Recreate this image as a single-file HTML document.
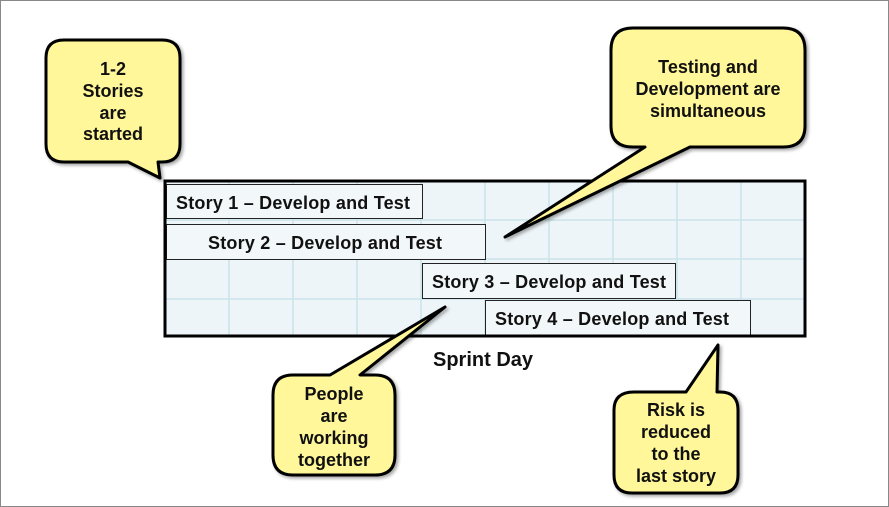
<!DOCTYPE html>
<html><head><style>
body{margin:0;background:#fff}
svg{display:block}
text{font-family:"Liberation Sans",sans-serif;font-weight:bold}
</style></head><body>
<svg width="889" height="507" viewBox="0 0 889 507">
<rect x="0.5" y="0.5" width="888" height="506" fill="#fff" stroke="#888"/>
<defs><filter id="sh" x="-10%" y="-10%" width="130%" height="130%"><feDropShadow dx="2" dy="2" stdDeviation="1.5" flood-color="#000" flood-opacity="0.35"/></filter></defs>
<rect x="165" y="181" width="640" height="155" fill="#eef5f8"/>
<g stroke="#c8e4ea" stroke-width="1.5">
<line x1="229" y1="181" x2="229" y2="336"/><line x1="293" y1="181" x2="293" y2="336"/><line x1="357" y1="181" x2="357" y2="336"/><line x1="421" y1="181" x2="421" y2="336"/><line x1="485" y1="181" x2="485" y2="336"/><line x1="549" y1="181" x2="549" y2="336"/><line x1="613" y1="181" x2="613" y2="336"/><line x1="677" y1="181" x2="677" y2="336"/><line x1="741" y1="181" x2="741" y2="336"/>
<line x1="165" y1="220" x2="805" y2="220"/><line x1="165" y1="259" x2="805" y2="259"/><line x1="165" y1="299" x2="805" y2="299"/>
</g>
<g fill="#f2f7f9" stroke="#222" stroke-width="1">
<rect x="166.5" y="184.5" width="256" height="34"/>
<rect x="166.5" y="224.5" width="319" height="35"/>
<rect x="422.5" y="263.5" width="253" height="35"/>
<rect x="485.5" y="300.5" width="265" height="35"/>
</g>
<rect x="165" y="181" width="640" height="155" fill="none" stroke="#000" stroke-width="3"/>
<g font-size="18" fill="#111" textLength="234">
<text x="176" y="209" textLength="234">Story 1 – Develop and Test</text>
<text x="208" y="249" textLength="234">Story 2 – Develop and Test</text>
<text x="432" y="288" textLength="234">Story 3 – Develop and Test</text>
<text x="495" y="325" textLength="234">Story 4 – Develop and Test</text>
</g>
<text x="483" y="366" font-size="20" text-anchor="middle" fill="#111">Sprint Day</text>
<g fill="#fff799" stroke="#000" stroke-width="3" stroke-linejoin="round" filter="url(#sh)">
<path d="M64,40 H162 Q180,40 180,58 V144 Q180,162 162,162 H158 L160,178 L128,162 H64 Q46,162 46,144 V58 Q46,40 64,40 Z"/>
<path d="M633,28 H783 Q805,28 805,50 V126 Q805,147 783,147 H690 L505,237 L645,147 H633 Q611,147 611,126 V50 Q611,28 633,28 Z"/>
<path d="M293,375 H330 L445,307 L360,375 H375 Q395,375 395,395 V455 Q395,475 375,475 H293 Q273,475 273,455 V395 Q273,375 293,375 Z"/>
<path d="M634,392 H686 L718,345 L717,392 H720 Q738,392 738,410 V475 Q738,493 720,493 H632 Q614,493 614,475 V410 Q614,392 634,392 Z"/>
</g>
<g font-size="18" fill="#111" text-anchor="middle">
<text x="113" y="75">1-2</text><text x="113" y="97">Stories</text><text x="113" y="119">are</text><text x="113" y="140">started</text>
<text x="708" y="73">Testing and</text><text x="708" y="95">Development are</text><text x="708" y="117">simultaneous</text>
<text x="334" y="400">People</text><text x="334" y="422">are</text><text x="334" y="444">working</text><text x="334" y="466">together</text>
<text x="676" y="416">Risk is</text><text x="676" y="438">reduced</text><text x="676" y="460">to the</text><text x="676" y="482">last story</text>
</g>
</svg>
</body></html>
